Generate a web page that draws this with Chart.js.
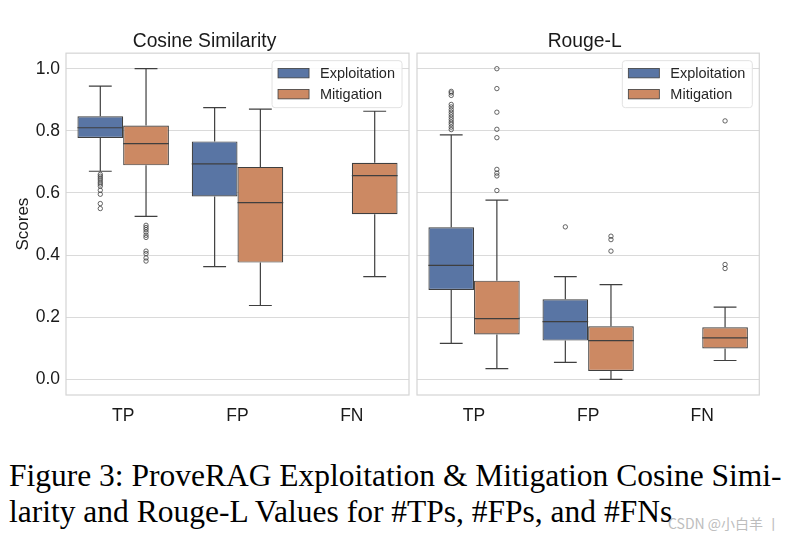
<!DOCTYPE html>
<html>
<head>
<meta charset="utf-8">
<script src="https://cdn.jsdelivr.net/npm/chart.js@4.4.1/dist/chart.umd.min.js"></script>
<style>
  body { margin: 0; background: #fff; width: 787px; height: 538px; position: relative; overflow: hidden; }
  #leftWrap { position: absolute; left: 0; top: 0; width: 412px; height: 430px; }
  #rightWrap { position: absolute; left: 410px; top: 0; width: 362px; height: 430px; }
  .cap { position: absolute; left: 9px; font-family: "Liberation Serif", "Times New Roman", serif; font-size: 31.5px; line-height: 31.5px; color: #000; white-space: nowrap; }
  #cap1 { top: 460px; width: 765px; text-align: justify; text-align-last: justify; }
  #cap2 { top: 496px; }
  #mark { position: absolute; left: 668px; top: 514px; font-family: "Noto Sans CJK SC", sans-serif; font-size: 14px; line-height: 18px; color: #bdbdbd; white-space: nowrap; }
</style>
</head>
<body>
<div id="leftWrap"><canvas id="chartCosine"></canvas></div>
<div id="rightWrap"><canvas id="chartRouge"></canvas></div>
<div class="cap" id="cap1">Figure 3: ProveRAG Exploitation &amp; Mitigation Cosine Simi-</div>
<div class="cap" id="cap2">larity and Rouge-L Values for #TPs, #FPs, and #FNs</div>
<div id="mark">CSDN @小白羊 丨</div>
<script>
const categories = ['TP', 'FP', 'FN'];
const seriesNames = ['Exploitation', 'Mitigation'];

// [whisker low, q1, median, q3, whisker high] per category
const cosineExploitation = [[0.670, 0.777, 0.810, 0.847, 0.944], [0.363, 0.589, 0.694, 0.766, 0.875], null];
const cosineMitigation = [[0.525, 0.689, 0.759, 0.817, 1.000], [0.238, 0.376, 0.569, 0.684, 0.870], [0.331, 0.532, 0.656, 0.697, 0.863]];
const cosineExploitationOut = [[0.660, 0.654, 0.648, 0.642, 0.635, 0.629, 0.622, 0.609, 0.596, 0.566, 0.550], [], []];
const cosineMitigationOut = [[0.496, 0.489, 0.482, 0.474, 0.464, 0.457, 0.413, 0.405, 0.391, 0.381], [], []];

const rougeExploitation = [[0.116, 0.288, 0.367, 0.490, 0.787], [0.055, 0.125, 0.186, 0.258, 0.331], null];
const rougeMitigation = [[0.035, 0.145, 0.196, 0.318, 0.577], [0.000, 0.027, 0.125, 0.171, 0.305], [0.061, 0.100, 0.134, 0.168, 0.233]];
const rougeExploitationOut = [[0.804, 0.812, 0.821, 0.828, 0.836, 0.844, 0.852, 0.860, 0.868, 0.877, 0.885, 0.914, 0.922, 0.927], [0.491], []];
const rougeMitigationOut = [[1.000, 0.936, 0.860, 0.805, 0.778, 0.676, 0.664, 0.655, 0.608], [0.461, 0.450, 0.413], [0.832, 0.370, 0.357]];

const yTicks = [0.0, 0.2, 0.4, 0.6, 0.8, 1.0];

const blue = '#5975a4';
const orange = '#cc8963';
const lineCol = '#3f3f3f';
const font = '"Liberation Sans", Arial, sans-serif';

// whiskers, medians, outliers, frame and legend drawn with the chart's scales
const boxPlugin = {
    id: 'boxExtras',
    afterDatasetsDraw(chart) {
        const ctx = chart.ctx;
        const yScale = chart.scales.y;
        const area = chart.chartArea;
        ctx.save();
        chart.data.datasets.forEach((ds, di) => {
            const meta = chart.getDatasetMeta(di);
            meta.data.forEach((el, i) => {
                const st = ds.stats[i];
                if (!st) return;
                const x = el.x;
                const half = el.width / 2;
                const cap = half / 2;
                const py = v => yScale.getPixelForValue(v);
                ctx.strokeStyle = lineCol;
                ctx.lineWidth = 1.2;
                ctx.beginPath();
                // lower whisker
                ctx.moveTo(x, py(st[1])); ctx.lineTo(x, py(st[0]));
                ctx.moveTo(x - cap, py(st[0])); ctx.lineTo(x + cap, py(st[0]));
                // upper whisker
                ctx.moveTo(x, py(st[3])); ctx.lineTo(x, py(st[4]));
                ctx.moveTo(x - cap, py(st[4])); ctx.lineTo(x + cap, py(st[4]));
                // median
                ctx.moveTo(x - half, py(st[2])); ctx.lineTo(x + half, py(st[2]));
                ctx.stroke();
                ctx.lineWidth = 0.8;
                ds.outliers[i].forEach(v => {
                    ctx.beginPath();
                    ctx.arc(x, py(v), 2.2, 0, Math.PI * 2);
                    ctx.stroke();
                });
            });
        });
        // axes frame
        ctx.strokeStyle = '#d4d4d4';
        ctx.lineWidth = 1.2;
        ctx.strokeRect(area.left, area.top, area.right - area.left, area.bottom - area.top);

        // legend box in the upper right
        ctx.font = '14.5px ' + font;
        const textW = Math.max(...chart.data.datasets.map(d => ctx.measureText(d.label).width));
        const boxW = 6 + 31 + 11 + textW + 7;
        const boxH = 47;
        const bx = area.right - 7 - boxW;
        const by = area.top + 7.5;
        ctx.fillStyle = 'rgba(255,255,255,0.85)';
        ctx.strokeStyle = '#e2e2e2';
        ctx.lineWidth = 1;
        ctx.beginPath();
        ctx.roundRect(bx, by, boxW, boxH, 3);
        ctx.fill();
        ctx.stroke();
        chart.data.datasets.forEach((ds, di) => {
            const cy = by + 12.5 + di * 21;
            ctx.fillStyle = ds.backgroundColor;
            ctx.fillRect(bx + 6, cy - 4.7, 31, 9.4);
            ctx.strokeStyle = lineCol;
            ctx.lineWidth = 0.8;
            ctx.strokeRect(bx + 6, cy - 4.7, 31, 9.4);
            ctx.fillStyle = '#262626';
            ctx.textBaseline = 'middle';
            ctx.textAlign = 'left';
            ctx.fillText(ds.label, bx + 48, cy + 0.5);
        });
        ctx.restore();
    }
};

function makeDataset(label, color, stats, outliers) {
    return {
        label: label,
        data: stats.map(s => s ? [s[1], s[3]] : null),
        stats: stats,
        outliers: outliers,
        backgroundColor: color,
        borderColor: lineCol,
        borderWidth: 1.2,
        borderSkipped: false,
        categoryPercentage: 0.8,
        barPercentage: 1.0
    };
}

function makeChart(canvasId, title, dsA, dsB, showY, padRight, yWidth) {
    const ctx = document.getElementById(canvasId);
    return new Chart(ctx, {
        type: 'bar',
        data: { labels: categories, datasets: [dsA, dsB] },
        options: {
            responsive: true,
            maintainAspectRatio: false,
            animation: false,
            layout: { padding: { left: 0, right: padRight, top: 0, bottom: 0 } },
            plugins: {
                legend: { display: false },
                tooltip: { enabled: false },
                title: {
                    display: true,
                    text: title,
                    color: '#1a1a1a',
                    font: { size: 19.3, family: font, weight: 'normal' },
                    padding: { top: 30, bottom: 0 }
                }
            },
            scales: {
                x: {
                    grid: { display: false },
                    border: { display: false },
                    ticks: { color: '#1a1a1a', font: { size: 17.5, family: font }, padding: 3 }
                },
                y: {
                    min: -0.05,
                    max: 1.05,
                    afterBuildTicks: s => { s.ticks = yTicks.map(v => ({ value: v })); },
                    afterFit: s => { s.width = yWidth; },
                    grid: { color: '#dadada', lineWidth: 1.1, drawTicks: false },
                    border: { display: false },
                    ticks: {
                        display: showY,
                        color: '#1a1a1a',
                        font: { size: 17.5, family: font },
                        padding: 6,
                        callback: v => v.toFixed(1)
                    },
                    title: {
                        display: showY,
                        text: 'Scores',
                        color: '#1a1a1a',
                        font: { size: 17, family: font },
                        padding: { top: 13, bottom: 0 }
                    }
                }
            }
        },
        plugins: [boxPlugin]
    });
}

makeChart('chartCosine', 'Cosine Similarity',
    makeDataset(seriesNames[0], blue, cosineExploitation, cosineExploitationOut),
    makeDataset(seriesNames[1], orange, cosineMitigation, cosineMitigationOut),
    true, 3, 66);

makeChart('chartRouge', 'Rouge-L',
    makeDataset(seriesNames[0], blue, rougeExploitation, rougeExploitationOut),
    makeDataset(seriesNames[1], orange, rougeMitigation, rougeMitigationOut),
    false, 12.7, 7);
</script>
</body>
</html>
